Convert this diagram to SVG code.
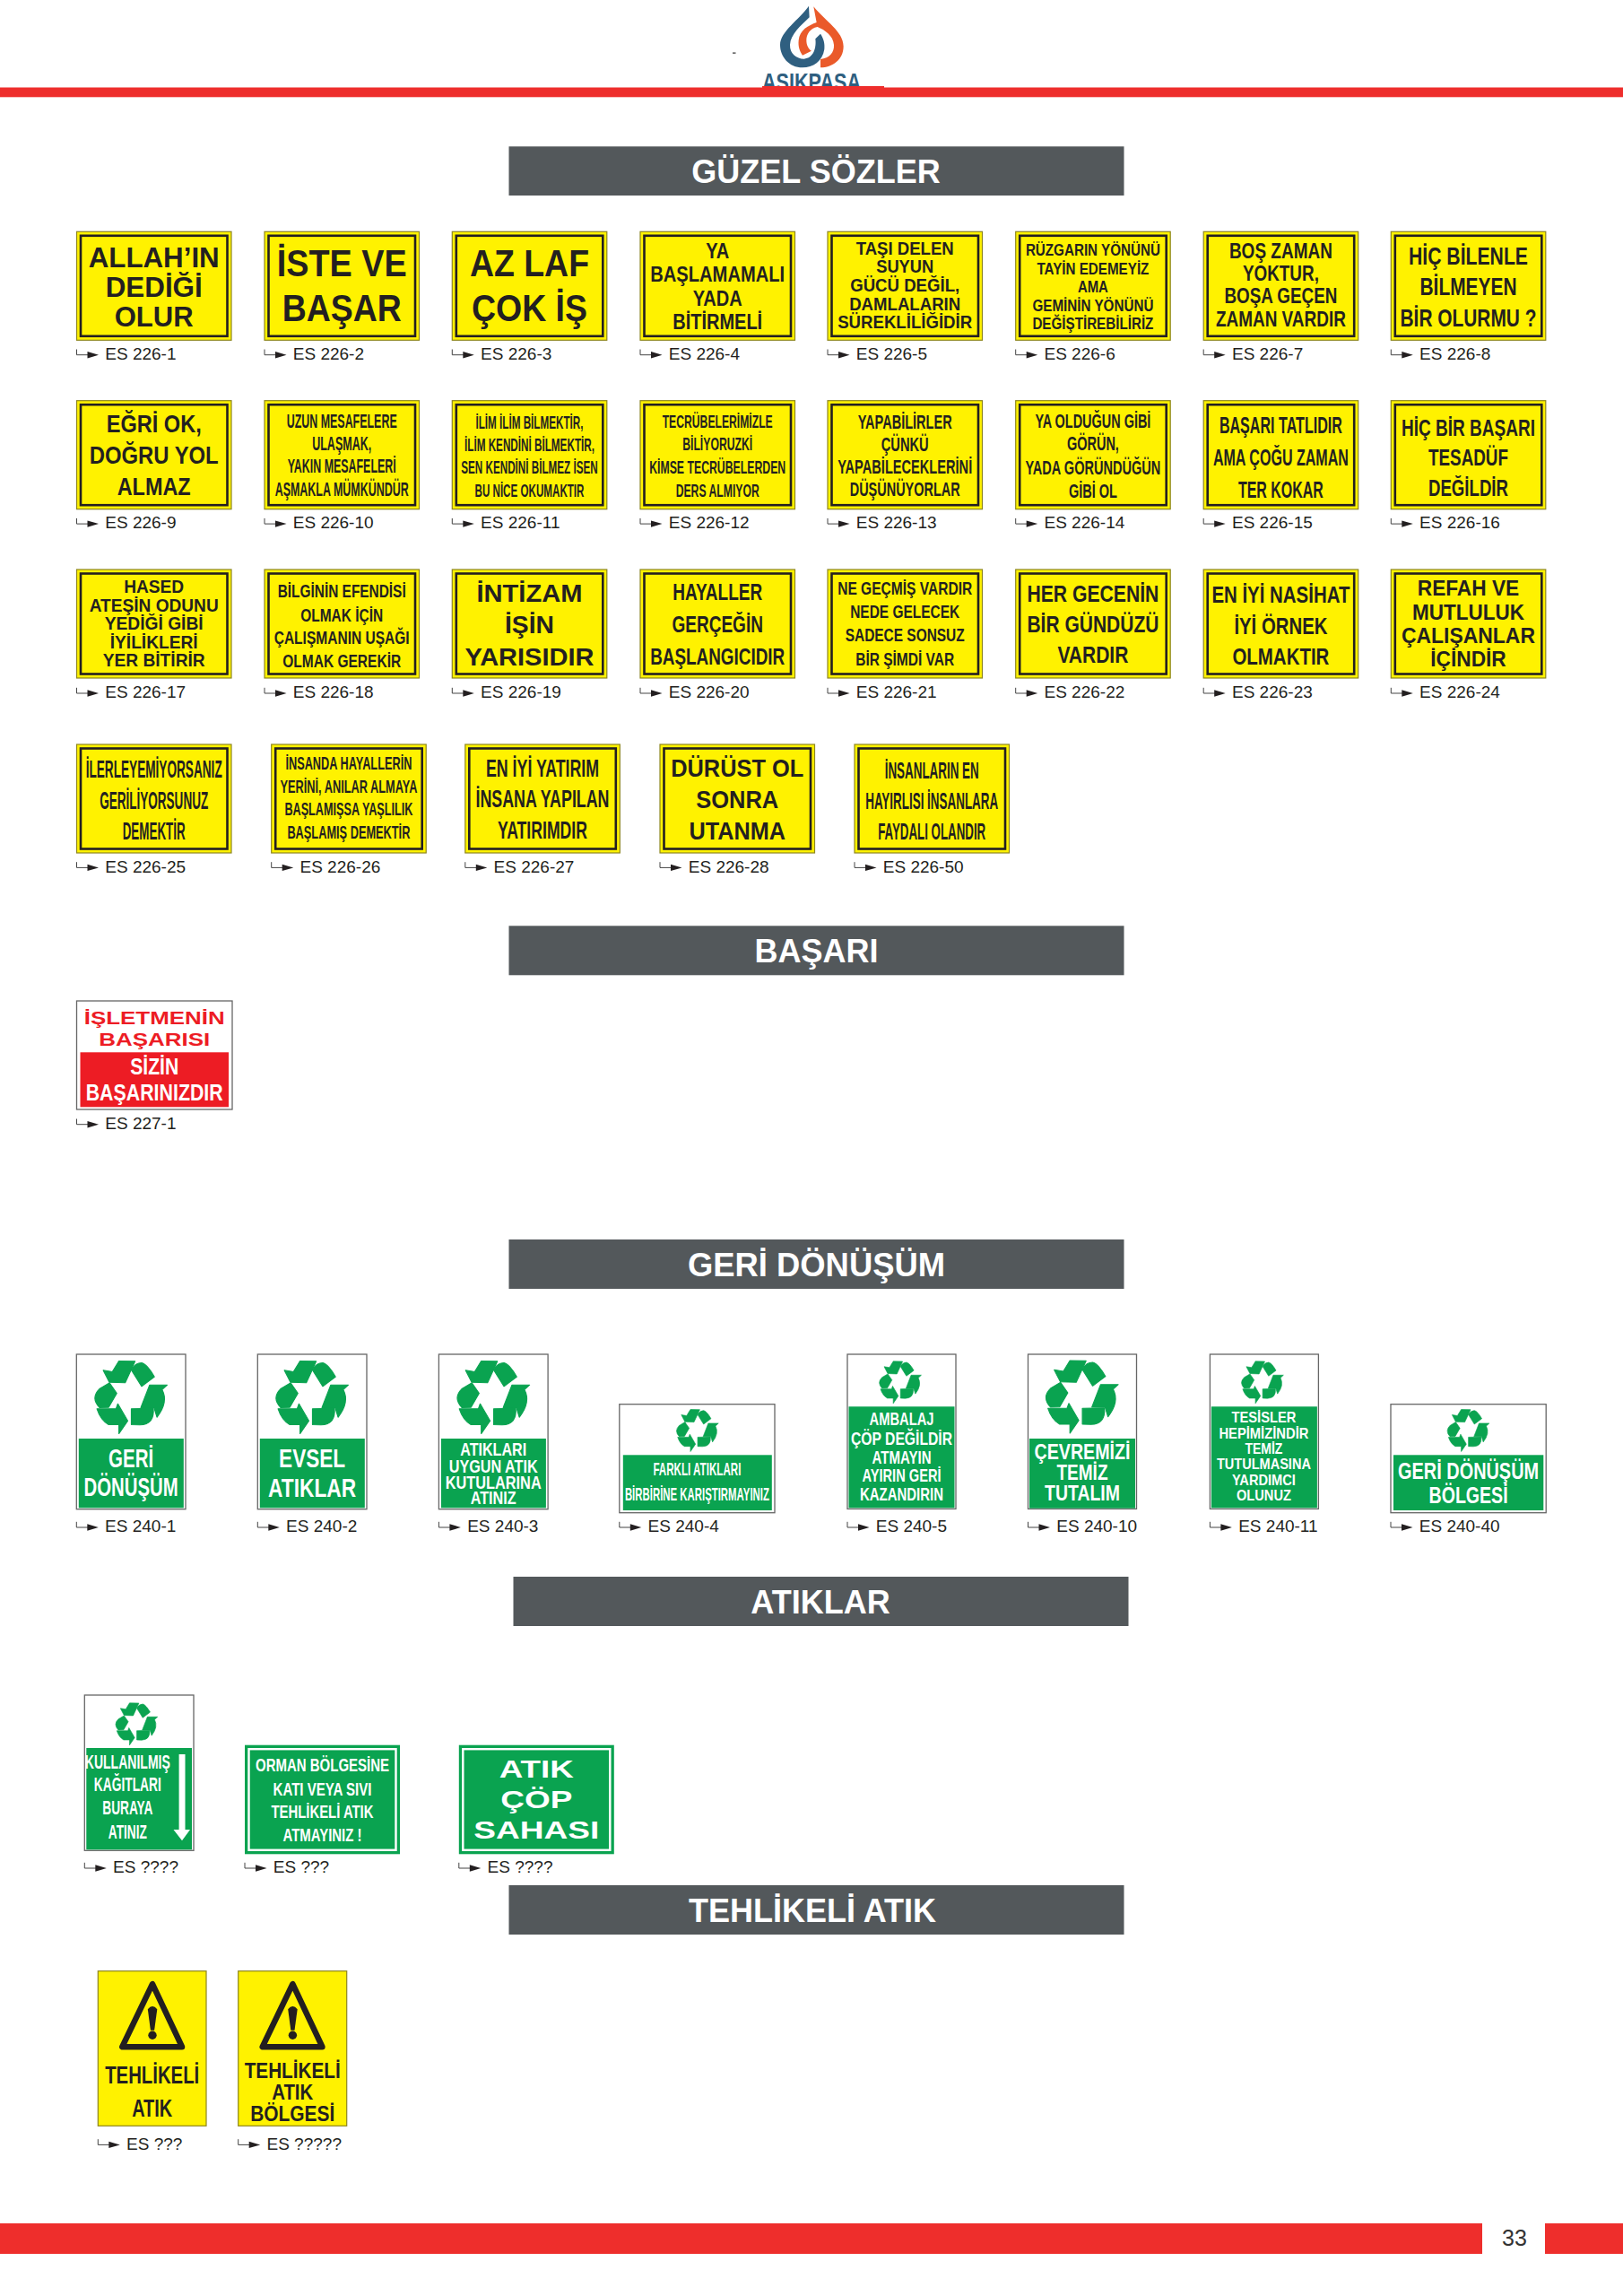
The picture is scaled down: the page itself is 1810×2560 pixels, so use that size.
<svg xmlns="http://www.w3.org/2000/svg" xmlns:xlink="http://www.w3.org/1999/xlink" width="1810" height="2560" viewBox="0 0 1810 2560">
<style>
text{font-family:"Liberation Sans",Arial,sans-serif}
.s text{font-weight:bold;text-anchor:middle;fill:#231f20}
.s .w{fill:#fff}
.s .r{fill:#ed1c24}
.s .lab{font-weight:normal;text-anchor:start;font-size:19px;fill:#231f20}
.bar{fill:#53585b}
.ttl{font-weight:bold;font-size:36px;fill:#fff;text-anchor:middle}
.red{fill:#ee2e2c}
.g{fill:#0aa350}
.wb{fill:#fff;stroke:#666;stroke-width:1.3}
.yb{fill:#fff200;stroke:#8d8620;stroke-width:1.2}
</style>
<defs>
<g id="ys"><rect x="0" y="0" width="172.5" height="121" class="yb"/><rect x="4.5" y="4.5" width="163.5" height="112" fill="none" stroke="#231f20" stroke-width="2.6"/></g>
<g id="gs"><rect x="0" y="0" width="173" height="121.6" class="g"/><rect x="4.5" y="4.5" width="164" height="112.6" fill="none" stroke="#fff" stroke-width="2.4"/></g>
<g id="lb"><path d="M0,-11.5V-5.3H14" fill="none" stroke="#444" stroke-width="1"/><path d="M12,-9L24.5,-5.3L12,-1.6Z" fill="#231f20"/></g>
<g id="rec" transform="scale(.408,.333) translate(-211,-232)" fill="#0aa350" stroke="#0aa350" stroke-width="3" stroke-linejoin="round">
<path d="M178,112L222,113L195,185L152,183L135,143L160,148Z"/>
<path d="M212,142Q222,118 240,118Q255,122 275,165L240,197Z"/>
<path d="M238,268L262,192L310,192L296,208Q314,250 282,300L274,268Z"/>
<path d="M212,272L272,270Q276,325 235,326L212,325Z"/>
<path d="M118,272L170,272L175,255L202,312L178,355L178,325L150,325Q128,310 118,272Z"/>
<path d="M152,185L172,220L150,267L125,268Q100,235 125,205Z"/>
</g>
<g id="tri"><path d="M60.7,14.5L27,84.5H93.7Z" fill="none" stroke="#231f20" stroke-width="6.5" stroke-linejoin="round"/><path d="M55.5,42.5Q60.7,36 66,42.5L62.8,66H58.6Z" fill="#231f20"/><circle cx="60.7" cy="71.5" r="4.7" fill="#231f20"/></g>
</defs>
<rect width="1810" height="2560" fill="#fff"/>
<g id="logo">
<rect x="817" y="58.5" width="3.5" height="1.2" fill="#333"/>
<g transform="translate(780,0) scale(.3333)">
<path fill="#2f5f80" d="M366,20L368,58C340,85 305,115 303,150C302,180 325,197 350,197C382,195 392,160 388,130L405,113C416,130 420,145 418,165C412,205 380,226 345,226C300,226 270,190 270,150C270,105 335,65 366,20Z"/>
<path fill="#ea5a2a" d="M382,22C420,70 482,105 482,155C482,200 445,225 405,226L405,198C435,195 452,175 450,150C448,120 420,100 395,90C370,95 358,115 358,135C358,150 365,165 375,170L345,185C335,170 330,155 332,135C335,100 365,85 392,75Z"/>
</g>
<text x="905" y="101" font-size="28" font-weight="bold" text-anchor="middle" fill="#2f5f80" textLength="110" lengthAdjust="spacingAndGlyphs">ASIKPASA</text>
</g>
<rect id="top-rule" class="red" x="0" y="97.5" width="1810" height="10.8"/>
<rect class="red" x="850" y="96" width="136" height="3"/>

<g id="sec-guzel"><rect class="bar" x="567.5" y="163.3" width="686" height="54.7"/><text class="ttl" x="910" y="204">GÜZEL SÖZLER</text></g>
<g id="sec-basari"><rect class="bar" x="567.5" y="1032.3" width="686" height="55"/><text class="ttl" x="910.5" y="1073.3">BAŞARI</text></g>
<g id="sec-geri"><rect class="bar" x="567.5" y="1382" width="686" height="55"/><text class="ttl" x="910.5" y="1423" textLength="287" lengthAdjust="spacingAndGlyphs">GERİ DÖNÜŞÜM</text></g>
<g id="sec-atiklar"><rect class="bar" x="572.5" y="1758" width="686" height="55"/><text class="ttl" x="915" y="1799">ATIKLAR</text></g>
<g id="sec-tehlikeli"><rect class="bar" x="567.5" y="2102" width="686" height="55"/><text class="ttl" x="906" y="2143">TEHLİKELİ ATIK</text></g>

<g id="es-226-1" class="s" transform="translate(85.5,258.3)"><use href="#ys"/>
<text x="86.2" y="39.3" font-size="31" textLength="146" lengthAdjust="spacingAndGlyphs">ALLAH’IN</text>
<text x="86.2" y="72.3" font-size="31" textLength="108" lengthAdjust="spacingAndGlyphs">DEDİĞİ</text>
<text x="86.2" y="105.7" font-size="31" textLength="88" lengthAdjust="spacingAndGlyphs">OLUR</text>
<text class="lab" x="31.8" y="142.7">ES 226-1</text></g>
<g id="es-226-2" class="s" transform="translate(295,258.3)"><use href="#ys"/>
<text x="86.2" y="50" font-size="43" textLength="145" lengthAdjust="spacingAndGlyphs">İSTE VE</text>
<text x="86.2" y="100" font-size="43" textLength="133" lengthAdjust="spacingAndGlyphs">BAŞAR</text>
<text class="lab" x="31.8" y="142.7">ES 226-2</text></g>
<g id="es-226-3" class="s" transform="translate(504.3,258.3)"><use href="#ys"/>
<text x="86.2" y="50" font-size="43" textLength="133" lengthAdjust="spacingAndGlyphs">AZ LAF</text>
<text x="86.2" y="100" font-size="43" textLength="129" lengthAdjust="spacingAndGlyphs">ÇOK İŞ</text>
<text class="lab" x="31.8" y="142.7">ES 226-3</text></g>
<g id="es-226-4" class="s" transform="translate(714,258.3)"><use href="#ys"/>
<text x="86.2" y="29.3" font-size="23" textLength="26" lengthAdjust="spacingAndGlyphs">YA</text>
<text x="86.2" y="56" font-size="23" textLength="150" lengthAdjust="spacingAndGlyphs">BAŞLAMAMALI</text>
<text x="86.2" y="82.7" font-size="23" textLength="55" lengthAdjust="spacingAndGlyphs">YADA</text>
<text x="86.2" y="109" font-size="23" textLength="100" lengthAdjust="spacingAndGlyphs">BİTİRMELİ</text>
<text class="lab" x="31.8" y="142.7">ES 226-4</text></g>
<g id="es-226-5" class="s" transform="translate(923,258.3)"><use href="#ys"/>
<text x="86.2" y="25.7" font-size="19.5" textLength="109" lengthAdjust="spacingAndGlyphs">TAŞI DELEN</text>
<text x="86.2" y="46" font-size="19.5" textLength="64" lengthAdjust="spacingAndGlyphs">SUYUN</text>
<text x="86.2" y="66.7" font-size="19.5" textLength="122" lengthAdjust="spacingAndGlyphs">GÜCÜ DEĞİL,</text>
<text x="86.2" y="87.7" font-size="19.5" textLength="124" lengthAdjust="spacingAndGlyphs">DAMLALARIN</text>
<text x="86.2" y="107.7" font-size="19.5" textLength="150" lengthAdjust="spacingAndGlyphs">SÜREKLİLİĞİDİR</text>
<text class="lab" x="31.8" y="142.7">ES 226-5</text></g>
<g id="es-226-6" class="s" transform="translate(1132.7,258.3)"><use href="#ys"/>
<text x="86.2" y="26.7" font-size="18.5" textLength="150" lengthAdjust="spacingAndGlyphs">RÜZGARIN YÖNÜNÜ</text>
<text x="86.2" y="47.3" font-size="18.5" textLength="125" lengthAdjust="spacingAndGlyphs">TAYİN EDEMEYİZ</text>
<text x="86.2" y="67.7" font-size="18.5" textLength="34" lengthAdjust="spacingAndGlyphs">AMA</text>
<text x="86.2" y="88.3" font-size="18.5" textLength="135" lengthAdjust="spacingAndGlyphs">GEMİNİN YÖNÜNÜ</text>
<text x="86.2" y="108.3" font-size="18.5" textLength="135" lengthAdjust="spacingAndGlyphs">DEĞİŞTİREBİLİRİZ</text>
<text class="lab" x="31.8" y="142.7">ES 226-6</text></g>
<g id="es-226-7" class="s" transform="translate(1342.2,258.3)"><use href="#ys"/>
<text x="86.2" y="30" font-size="23" textLength="115" lengthAdjust="spacingAndGlyphs">BOŞ ZAMAN</text>
<text x="86.2" y="55" font-size="23" textLength="85" lengthAdjust="spacingAndGlyphs">YOKTUR,</text>
<text x="86.2" y="80" font-size="23" textLength="126" lengthAdjust="spacingAndGlyphs">BOŞA GEÇEN</text>
<text x="86.2" y="105.7" font-size="23" textLength="145" lengthAdjust="spacingAndGlyphs">ZAMAN VARDIR</text>
<text class="lab" x="31.8" y="142.7">ES 226-7</text></g>
<g id="es-226-8" class="s" transform="translate(1551.3,258.3)"><use href="#ys"/>
<text x="86.2" y="36.7" font-size="28" textLength="133" lengthAdjust="spacingAndGlyphs">HİÇ BİLENLE</text>
<text x="86.2" y="71" font-size="28" textLength="108" lengthAdjust="spacingAndGlyphs">BİLMEYEN</text>
<text x="86.2" y="105.7" font-size="28" textLength="152" lengthAdjust="spacingAndGlyphs">BİR OLURMU ?</text>
<text class="lab" x="31.8" y="142.7">ES 226-8</text></g>

<g id="es-226-9" class="s" transform="translate(85.5,446.7)"><use href="#ys"/>
<text x="86.2" y="35.7" font-size="27" textLength="106" lengthAdjust="spacingAndGlyphs">EĞRİ OK,</text>
<text x="86.2" y="70.7" font-size="27" textLength="144" lengthAdjust="spacingAndGlyphs">DOĞRU YOL</text>
<text x="86.2" y="105" font-size="27" textLength="82" lengthAdjust="spacingAndGlyphs">ALMAZ</text>
<text class="lab" x="31.8" y="142.7">ES 226-9</text></g>
<g id="es-226-10" class="s" transform="translate(295,446.7)"><use href="#ys"/>
<text x="86.2" y="30" font-size="22.5" textLength="123" lengthAdjust="spacingAndGlyphs">UZUN MESAFELERE</text>
<text x="86.2" y="55" font-size="22.5" textLength="66" lengthAdjust="spacingAndGlyphs">ULAŞMAK,</text>
<text x="86.2" y="80.7" font-size="22.5" textLength="121" lengthAdjust="spacingAndGlyphs">YAKIN MESAFELERİ</text>
<text x="86.2" y="106.7" font-size="22.5" textLength="149" lengthAdjust="spacingAndGlyphs">AŞMAKLA MÜMKÜNDÜR</text>
<text class="lab" x="31.8" y="142.7">ES 226-10</text></g>
<g id="es-226-11" class="s" transform="translate(504.3,446.7)"><use href="#ys"/>
<text x="86.2" y="31.7" font-size="20.5" textLength="120" lengthAdjust="spacingAndGlyphs">İLİM İLİM BİLMEKTİR,</text>
<text x="86.2" y="56.7" font-size="20.5" textLength="145" lengthAdjust="spacingAndGlyphs">İLİM KENDİNİ BİLMEKTİR,</text>
<text x="86.2" y="81.7" font-size="20.5" textLength="152.5" lengthAdjust="spacingAndGlyphs">SEN KENDİNİ BİLMEZ İSEN</text>
<text x="86.2" y="107.3" font-size="20.5" textLength="122" lengthAdjust="spacingAndGlyphs">BU NİCE OKUMAKTIR</text>
<text class="lab" x="31.8" y="142.7">ES 226-11</text></g>
<g id="es-226-12" class="s" transform="translate(714,446.7)"><use href="#ys"/>
<text x="86.2" y="30" font-size="21" textLength="123" lengthAdjust="spacingAndGlyphs">TECRÜBELERİMİZLE</text>
<text x="86.2" y="55.7" font-size="21" textLength="78" lengthAdjust="spacingAndGlyphs">BİLİYORUZKİ</text>
<text x="86.2" y="81.7" font-size="21" textLength="152" lengthAdjust="spacingAndGlyphs">KİMSE TECRÜBELERDEN</text>
<text x="86.2" y="107.3" font-size="21" textLength="93" lengthAdjust="spacingAndGlyphs">DERS ALMIYOR</text>
<text class="lab" x="31.8" y="142.7">ES 226-12</text></g>
<g id="es-226-13" class="s" transform="translate(923,446.7)"><use href="#ys"/>
<text x="86.2" y="31.7" font-size="21.5" textLength="105" lengthAdjust="spacingAndGlyphs">YAPABİLİRLER</text>
<text x="86.2" y="56.7" font-size="21.5" textLength="53" lengthAdjust="spacingAndGlyphs">ÇÜNKÜ</text>
<text x="86.2" y="81.7" font-size="21.5" textLength="150" lengthAdjust="spacingAndGlyphs">YAPABİLECEKLERİNİ</text>
<text x="86.2" y="106.7" font-size="21.5" textLength="123" lengthAdjust="spacingAndGlyphs">DÜŞÜNÜYORLAR</text>
<text class="lab" x="31.8" y="142.7">ES 226-13</text></g>
<g id="es-226-14" class="s" transform="translate(1132.7,446.7)"><use href="#ys"/>
<text x="86.2" y="30.7" font-size="21.5" textLength="129" lengthAdjust="spacingAndGlyphs">YA OLDUĞUN GİBİ</text>
<text x="86.2" y="55.7" font-size="21.5" textLength="58" lengthAdjust="spacingAndGlyphs">GÖRÜN,</text>
<text x="86.2" y="82.7" font-size="21.5" textLength="151" lengthAdjust="spacingAndGlyphs">YADA GÖRÜNDÜĞÜN</text>
<text x="86.2" y="108.3" font-size="21.5" textLength="54" lengthAdjust="spacingAndGlyphs">GİBİ OL</text>
<text class="lab" x="31.8" y="142.7">ES 226-14</text></g>
<g id="es-226-15" class="s" transform="translate(1342.2,446.7)"><use href="#ys"/>
<text x="86.2" y="36.7" font-size="25.5" textLength="137" lengthAdjust="spacingAndGlyphs">BAŞARI TATLIDIR</text>
<text x="86.2" y="72.7" font-size="25.5" textLength="151" lengthAdjust="spacingAndGlyphs">AMA ÇOĞU ZAMAN</text>
<text x="86.2" y="108.3" font-size="25.5" textLength="95" lengthAdjust="spacingAndGlyphs">TER KOKAR</text>
<text class="lab" x="31.8" y="142.7">ES 226-15</text></g>
<g id="es-226-16" class="s" transform="translate(1551.3,446.7)"><use href="#ys"/>
<text x="86.2" y="39.3" font-size="26.5" textLength="149" lengthAdjust="spacingAndGlyphs">HİÇ BİR BAŞARI</text>
<text x="86.2" y="72.7" font-size="26.5" textLength="89" lengthAdjust="spacingAndGlyphs">TESADÜF</text>
<text x="86.2" y="106" font-size="26.5" textLength="89" lengthAdjust="spacingAndGlyphs">DEĞİLDİR</text>
<text class="lab" x="31.8" y="142.7">ES 226-16</text></g>

<g id="es-226-17" class="s" transform="translate(85.5,635)"><use href="#ys"/>
<text x="86.2" y="25.7" font-size="19.5" textLength="67" lengthAdjust="spacingAndGlyphs">HASED</text>
<text x="86.2" y="46.7" font-size="19.5" textLength="144" lengthAdjust="spacingAndGlyphs">ATEŞİN ODUNU</text>
<text x="86.2" y="66.7" font-size="19.5" textLength="110" lengthAdjust="spacingAndGlyphs">YEDİĞİ GİBİ</text>
<text x="86.2" y="87.7" font-size="19.5" textLength="98" lengthAdjust="spacingAndGlyphs">İYİLİKLERİ</text>
<text x="86.2" y="108.3" font-size="19.5" textLength="114" lengthAdjust="spacingAndGlyphs">YER BİTİRİR</text>
<text class="lab" x="31.8" y="143.3">ES 226-17</text></g>
<g id="es-226-18" class="s" transform="translate(295,635)"><use href="#ys"/>
<text x="86.2" y="31" font-size="20" textLength="143" lengthAdjust="spacingAndGlyphs">BİLGİNİN EFENDİSİ</text>
<text x="86.2" y="57.7" font-size="20" textLength="92" lengthAdjust="spacingAndGlyphs">OLMAK İÇİN</text>
<text x="86.2" y="83.3" font-size="20" textLength="151" lengthAdjust="spacingAndGlyphs">ÇALIŞMANIN UŞAĞI</text>
<text x="86.2" y="109.3" font-size="20" textLength="132" lengthAdjust="spacingAndGlyphs">OLMAK GEREKİR</text>
<text class="lab" x="31.8" y="143.3">ES 226-18</text></g>
<g id="es-226-19" class="s" transform="translate(504.3,635)"><use href="#ys"/>
<text x="86.2" y="35.7" font-size="28" textLength="118" lengthAdjust="spacingAndGlyphs">İNTİZAM</text>
<text x="86.2" y="71" font-size="28" textLength="55" lengthAdjust="spacingAndGlyphs">İŞİN</text>
<text x="86.2" y="106.7" font-size="28" textLength="144" lengthAdjust="spacingAndGlyphs">YARISIDIR</text>
<text class="lab" x="31.8" y="143.3">ES 226-19</text></g>
<g id="es-226-20" class="s" transform="translate(714,635)"><use href="#ys"/>
<text x="86.2" y="34" font-size="26.5" textLength="100" lengthAdjust="spacingAndGlyphs">HAYALLER</text>
<text x="86.2" y="70" font-size="26.5" textLength="101.5" lengthAdjust="spacingAndGlyphs">GERÇEĞİN</text>
<text x="86.2" y="106" font-size="26.5" textLength="150" lengthAdjust="spacingAndGlyphs">BAŞLANGICIDIR</text>
<text class="lab" x="31.8" y="143.3">ES 226-20</text></g>
<g id="es-226-21" class="s" transform="translate(923,635)"><use href="#ys"/>
<text x="86.2" y="27.7" font-size="20" textLength="150" lengthAdjust="spacingAndGlyphs">NE GEÇMİŞ VARDIR</text>
<text x="86.2" y="54.3" font-size="20" textLength="122" lengthAdjust="spacingAndGlyphs">NEDE GELECEK</text>
<text x="86.2" y="80.3" font-size="20" textLength="133" lengthAdjust="spacingAndGlyphs">SADECE SONSUZ</text>
<text x="86.2" y="106.7" font-size="20" textLength="110" lengthAdjust="spacingAndGlyphs">BİR ŞİMDİ VAR</text>
<text class="lab" x="31.8" y="143.3">ES 226-21</text></g>
<g id="es-226-22" class="s" transform="translate(1132.7,635)"><use href="#ys"/>
<text x="86.2" y="35.7" font-size="25" textLength="147" lengthAdjust="spacingAndGlyphs">HER GECENİN</text>
<text x="86.2" y="70" font-size="25" textLength="147" lengthAdjust="spacingAndGlyphs">BİR GÜNDÜZÜ</text>
<text x="86.2" y="104.3" font-size="25" textLength="79" lengthAdjust="spacingAndGlyphs">VARDIR</text>
<text class="lab" x="31.8" y="143.3">ES 226-22</text></g>
<g id="es-226-23" class="s" transform="translate(1342.2,635)"><use href="#ys"/>
<text x="86.2" y="37.3" font-size="25" textLength="154" lengthAdjust="spacingAndGlyphs">EN İYİ NASİHAT</text>
<text x="86.2" y="71.7" font-size="25" textLength="104" lengthAdjust="spacingAndGlyphs">İYİ ÖRNEK</text>
<text x="86.2" y="105.7" font-size="25" textLength="108" lengthAdjust="spacingAndGlyphs">OLMAKTIR</text>
<text class="lab" x="31.8" y="143.3">ES 226-23</text></g>
<g id="es-226-24" class="s" transform="translate(1551.3,635)"><use href="#ys"/>
<text x="86.2" y="29.3" font-size="23.5" textLength="113.5" lengthAdjust="spacingAndGlyphs">REFAH VE</text>
<text x="86.2" y="55.7" font-size="23.5" textLength="125" lengthAdjust="spacingAndGlyphs">MUTLULUK</text>
<text x="86.2" y="81.7" font-size="23.5" textLength="149" lengthAdjust="spacingAndGlyphs">ÇALIŞANLAR</text>
<text x="86.2" y="107.7" font-size="23.5" textLength="84.5" lengthAdjust="spacingAndGlyphs">İÇİNDİR</text>
<text class="lab" x="31.8" y="143.3">ES 226-24</text></g>

<g id="es-226-25" class="s" transform="translate(85.5,830)"><use href="#ys"/>
<text x="86.2" y="37.3" font-size="27" textLength="152" lengthAdjust="spacingAndGlyphs">İLERLEYEMİYORSANIZ</text>
<text x="86.2" y="71.7" font-size="27" textLength="121" lengthAdjust="spacingAndGlyphs">GERİLİYORSUNUZ</text>
<text x="86.2" y="106" font-size="27" textLength="70" lengthAdjust="spacingAndGlyphs">DEMEKTİR</text>
<text class="lab" x="31.8" y="142.7">ES 226-25</text></g>
<g id="es-226-26" class="s" transform="translate(302.7,830)"><use href="#ys"/>
<text x="86.2" y="28.3" font-size="20.5" textLength="141" lengthAdjust="spacingAndGlyphs">İNSANDA HAYALLERİN</text>
<text x="86.2" y="54" font-size="20.5" textLength="153" lengthAdjust="spacingAndGlyphs">YERİNİ, ANILAR ALMAYA</text>
<text x="86.2" y="79.3" font-size="20.5" textLength="143" lengthAdjust="spacingAndGlyphs">BAŞLAMIŞSA YAŞLILIK</text>
<text x="86.2" y="105" font-size="20.5" textLength="137" lengthAdjust="spacingAndGlyphs">BAŞLAMIŞ DEMEKTİR</text>
<text class="lab" x="31.8" y="142.7">ES 226-26</text></g>
<g id="es-226-27" class="s" transform="translate(518.8,830)"><use href="#ys"/>
<text x="86.2" y="36" font-size="27" textLength="126" lengthAdjust="spacingAndGlyphs">EN İYİ YATIRIM</text>
<text x="86.2" y="70" font-size="27" textLength="149" lengthAdjust="spacingAndGlyphs">İNSANA YAPILAN</text>
<text x="86.2" y="105" font-size="27" textLength="100" lengthAdjust="spacingAndGlyphs">YATIRIMDIR</text>
<text class="lab" x="31.8" y="142.7">ES 226-27</text></g>
<g id="es-226-28" class="s" transform="translate(736,830)"><use href="#ys"/>
<text x="86.2" y="36" font-size="28" textLength="148" lengthAdjust="spacingAndGlyphs">DÜRÜST OL</text>
<text x="86.2" y="70.7" font-size="28" textLength="92" lengthAdjust="spacingAndGlyphs">SONRA</text>
<text x="86.2" y="106" font-size="28" textLength="107.5" lengthAdjust="spacingAndGlyphs">UTANMA</text>
<text class="lab" x="31.8" y="142.7">ES 226-28</text></g>
<g id="es-226-50" class="s" transform="translate(953,830)"><use href="#ys"/>
<text x="86.2" y="38.3" font-size="26" textLength="105" lengthAdjust="spacingAndGlyphs">İNSANLARIN EN</text>
<text x="86.2" y="72.3" font-size="26" textLength="148" lengthAdjust="spacingAndGlyphs">HAYIRLISI İNSANLARA</text>
<text x="86.2" y="106" font-size="26" textLength="120" lengthAdjust="spacingAndGlyphs">FAYDALI OLANDIR</text>
<text class="lab" x="31.8" y="142.7">ES 226-50</text></g>

<g id="es-227-1" class="s" transform="translate(85.5,1116)">
<rect width="173.5" height="121" class="wb"/><rect x="4" y="57.3" width="165.5" height="61" fill="#ed1c24"/>
<text class="r" x="86.7" y="25.7" font-size="21" textLength="157" lengthAdjust="spacingAndGlyphs">İŞLETMENİN</text>
<text class="r" x="86.7" y="50" font-size="21" textLength="124" lengthAdjust="spacingAndGlyphs">BAŞARISI</text>
<text class="w" x="86.7" y="82.3" font-size="25" textLength="54" lengthAdjust="spacingAndGlyphs">SİZİN</text>
<text class="w" x="86.7" y="110.7" font-size="25" textLength="153" lengthAdjust="spacingAndGlyphs">BAŞARINIZDIR</text>
<text class="lab" x="31.8" y="143">ES 227-1</text></g>

<g id="es-240-1" class="s" transform="translate(85.3,1510)">
<rect width="121.7" height="172.7" class="wb"/><rect x="2.5" y="94" width="117" height="77.3" class="g"/>
<use href="#rec" transform="translate(60.8,47.5)"/>
<text class="w" x="60.8" y="126" font-size="29" textLength="50" lengthAdjust="spacingAndGlyphs">GERİ</text>
<text class="w" x="60.8" y="157.7" font-size="29" textLength="105" lengthAdjust="spacingAndGlyphs">DÖNÜŞÜM</text>
<text class="lab" x="31.8" y="198.3">ES 240-1</text></g>
<g id="es-240-2" class="s" transform="translate(287.3,1510)">
<rect width="121.7" height="172.7" class="wb"/><rect x="2.5" y="94" width="117" height="77.3" class="g"/>
<use href="#rec" transform="translate(60.8,47.5)"/>
<text class="w" x="60.8" y="126" font-size="29" textLength="74" lengthAdjust="spacingAndGlyphs">EVSEL</text>
<text class="w" x="60.8" y="159.3" font-size="29" textLength="98" lengthAdjust="spacingAndGlyphs">ATIKLAR</text>
<text class="lab" x="31.8" y="198.3">ES 240-2</text></g>
<g id="es-240-3" class="s" transform="translate(489.4,1510)">
<rect width="121.7" height="172.7" class="wb"/><rect x="2.5" y="94" width="117" height="77.3" class="g"/>
<use href="#rec" transform="translate(60.8,47.5)"/>
<text class="w" x="60.8" y="113.3" font-size="19.5" textLength="74" lengthAdjust="spacingAndGlyphs">ATIKLARI</text>
<text class="w" x="60.8" y="131.7" font-size="19.5" textLength="99" lengthAdjust="spacingAndGlyphs">UYGUN ATIK</text>
<text class="w" x="60.8" y="150" font-size="19.5" textLength="107" lengthAdjust="spacingAndGlyphs">KUTULARINA</text>
<text class="w" x="60.8" y="167.3" font-size="19.5" textLength="51" lengthAdjust="spacingAndGlyphs">ATINIZ</text>
<text class="lab" x="31.8" y="198.3">ES 240-3</text></g>
<g id="es-240-4" class="s" transform="translate(690.8,1565.7)">
<rect width="173.2" height="121" class="wb"/><rect x="4" y="56.6" width="166" height="61.7" class="g"/>
<use href="#rec" transform="translate(87,29) scale(.58)"/>
<text class="w" x="86.6" y="79.3" font-size="20" textLength="98" lengthAdjust="spacingAndGlyphs">FARKLI ATIKLARI</text>
<text class="w" x="86.6" y="107" font-size="20" textLength="161" lengthAdjust="spacingAndGlyphs">BİRBİRİNE KARIŞTIRMAYINIZ</text>
<text class="lab" x="31.8" y="142.6">ES 240-4</text></g>
<g id="es-240-5" class="s" transform="translate(945,1510)">
<rect width="121" height="172.4" class="wb"/><rect x="1.5" y="58.3" width="118" height="113" class="g"/>
<use href="#rec" transform="translate(59,31) scale(.58)"/>
<text class="w" x="60.5" y="79.3" font-size="20" textLength="72" lengthAdjust="spacingAndGlyphs">AMBALAJ</text>
<text class="w" x="60.5" y="100.7" font-size="20" textLength="113" lengthAdjust="spacingAndGlyphs">ÇÖP DEĞİLDİR</text>
<text class="w" x="60.5" y="121.7" font-size="20" textLength="66" lengthAdjust="spacingAndGlyphs">ATMAYIN</text>
<text class="w" x="60.5" y="142.3" font-size="20" textLength="88" lengthAdjust="spacingAndGlyphs">AYIRIN GERİ</text>
<text class="w" x="60.5" y="163.3" font-size="20" textLength="93" lengthAdjust="spacingAndGlyphs">KAZANDIRIN</text>
<text class="lab" x="31.8" y="198.3">ES 240-5</text></g>
<g id="es-240-10" class="s" transform="translate(1146.5,1510)">
<rect width="121" height="172.4" class="wb"/><rect x="1.5" y="94" width="118" height="77.7" class="g"/>
<use href="#rec" transform="translate(60.2,47)"/>
<text class="w" x="60.5" y="116.7" font-size="23" textLength="107" lengthAdjust="spacingAndGlyphs">ÇEVREMİZİ</text>
<text class="w" x="60.5" y="140" font-size="23" textLength="57" lengthAdjust="spacingAndGlyphs">TEMİZ</text>
<text class="w" x="60.5" y="163.3" font-size="23" textLength="84" lengthAdjust="spacingAndGlyphs">TUTALIM</text>
<text class="lab" x="31.8" y="198.3">ES 240-10</text></g>
<g id="es-240-11" class="s" transform="translate(1349.4,1510)">
<rect width="121" height="172.4" class="wb"/><rect x="1.5" y="58.3" width="118" height="113" class="g"/>
<use href="#rec" transform="translate(58.5,31) scale(.58)"/>
<text class="w" x="60" y="76" font-size="17" textLength="72" lengthAdjust="spacingAndGlyphs">TESİSLER</text>
<text class="w" x="60" y="94" font-size="17" textLength="100" lengthAdjust="spacingAndGlyphs">HEPİMİZİNDİR</text>
<text class="w" x="60" y="111" font-size="17" textLength="42" lengthAdjust="spacingAndGlyphs">TEMİZ</text>
<text class="w" x="60" y="128.3" font-size="17" textLength="105" lengthAdjust="spacingAndGlyphs">TUTULMASINA</text>
<text class="w" x="60" y="145.7" font-size="17" textLength="71" lengthAdjust="spacingAndGlyphs">YARDIMCI</text>
<text class="w" x="60" y="163.3" font-size="17" textLength="61" lengthAdjust="spacingAndGlyphs">OLUNUZ</text>
<text class="lab" x="31.8" y="198.3">ES 240-11</text></g>
<g id="es-240-40" class="s" transform="translate(1551,1565.7)">
<rect width="173.2" height="121" class="wb"/><rect x="3" y="56.6" width="167.3" height="61.7" class="g"/>
<use href="#rec" transform="translate(86.4,29) scale(.58)"/>
<text class="w" x="86.6" y="83.3" font-size="25" textLength="157" lengthAdjust="spacingAndGlyphs">GERİ DÖNÜŞÜM</text>
<text class="w" x="86.6" y="110.3" font-size="25" textLength="88" lengthAdjust="spacingAndGlyphs">BÖLGESİ</text>
<text class="lab" x="31.8" y="142.6">ES 240-40</text></g>

<g id="es-kullanilmis" class="s" transform="translate(94.3,1890)">
<rect width="121.7" height="173.3" class="wb"/><rect x="2" y="59" width="117.7" height="113.3" class="g"/>
<use href="#rec" transform="translate(58,32) scale(.58)"/>
<text class="w" x="48" y="81.7" font-size="22" textLength="95" lengthAdjust="spacingAndGlyphs">KULLANILMIŞ</text>
<text class="w" x="48" y="106.7" font-size="22" textLength="75" lengthAdjust="spacingAndGlyphs">KAĞITLARI</text>
<text class="w" x="48" y="133.3" font-size="22" textLength="56" lengthAdjust="spacingAndGlyphs">BURAYA</text>
<text class="w" x="48" y="160" font-size="22" textLength="43" lengthAdjust="spacingAndGlyphs">ATINIZ</text>
<path d="M105.3,66H112.2V150H117.7L108.7,162.3L99.2,150H105.3Z" fill="#fff"/>
<text class="lab" x="31.8" y="198.3">ES ????</text></g>
<g id="es-orman" class="s" transform="translate(273,1945.7)"><use href="#gs"/>
<text class="w" x="86.5" y="29.3" font-size="21" textLength="149" lengthAdjust="spacingAndGlyphs">ORMAN BÖLGESİNE</text>
<text class="w" x="86.5" y="56" font-size="21" textLength="110" lengthAdjust="spacingAndGlyphs">KATI VEYA SIVI</text>
<text class="w" x="86.5" y="81.6" font-size="21" textLength="114" lengthAdjust="spacingAndGlyphs">TEHLİKELİ ATIK</text>
<text class="w" x="86.5" y="107.6" font-size="21" textLength="88" lengthAdjust="spacingAndGlyphs">ATMAYINIZ !</text>
<text class="lab" x="31.8" y="142.6">ES ???</text></g>
<g id="es-atik-cop" class="s" transform="translate(511.8,1945.7)"><use href="#gs"/>
<text class="w" x="86.5" y="36" font-size="28" textLength="83" lengthAdjust="spacingAndGlyphs">ATIK</text>
<text class="w" x="86.5" y="70" font-size="28" textLength="80" lengthAdjust="spacingAndGlyphs">ÇÖP</text>
<text class="w" x="86.5" y="104.3" font-size="28" textLength="140" lengthAdjust="spacingAndGlyphs">SAHASI</text>
<text class="lab" x="31.8" y="142.6">ES ????</text></g>

<g id="es-tehlikeli-atik" class="s" transform="translate(109.3,2197.7)">
<rect width="120.7" height="172.6" class="yb"/><use href="#tri"/>
<text x="60.4" y="125.6" font-size="27" textLength="105" lengthAdjust="spacingAndGlyphs">TEHLİKELİ</text>
<text x="60.4" y="162.3" font-size="27" textLength="45" lengthAdjust="spacingAndGlyphs">ATIK</text>
<text class="lab" x="31.8" y="199">ES ???</text></g>
<g id="es-tehlikeli-bolge" class="s" transform="translate(265.7,2197.7)">
<rect width="121" height="172.6" class="yb"/><use href="#tri"/>
<text x="60.5" y="119" font-size="24" textLength="107" lengthAdjust="spacingAndGlyphs">TEHLİKELİ</text>
<text x="60.5" y="143.3" font-size="24" textLength="46" lengthAdjust="spacingAndGlyphs">ATIK</text>
<text x="60.5" y="167.3" font-size="24" textLength="94" lengthAdjust="spacingAndGlyphs">BÖLGESİ</text>
<text class="lab" x="31.8" y="199">ES ?????</text></g>

<g id="connectors">
<use href="#lb" x="85.5" y="401"/><use href="#lb" x="295" y="401"/><use href="#lb" x="504.3" y="401"/><use href="#lb" x="714" y="401"/><use href="#lb" x="923" y="401"/><use href="#lb" x="1132.7" y="401"/><use href="#lb" x="1342.2" y="401"/><use href="#lb" x="1551.3" y="401"/>
<use href="#lb" x="85.5" y="589.4"/><use href="#lb" x="295" y="589.4"/><use href="#lb" x="504.3" y="589.4"/><use href="#lb" x="714" y="589.4"/><use href="#lb" x="923" y="589.4"/><use href="#lb" x="1132.7" y="589.4"/><use href="#lb" x="1342.2" y="589.4"/><use href="#lb" x="1551.3" y="589.4"/>
<use href="#lb" x="85.5" y="778.3"/><use href="#lb" x="295" y="778.3"/><use href="#lb" x="504.3" y="778.3"/><use href="#lb" x="714" y="778.3"/><use href="#lb" x="923" y="778.3"/><use href="#lb" x="1132.7" y="778.3"/><use href="#lb" x="1342.2" y="778.3"/><use href="#lb" x="1551.3" y="778.3"/>
<use href="#lb" x="85.5" y="972.7"/><use href="#lb" x="302.7" y="972.7"/><use href="#lb" x="518.8" y="972.7"/><use href="#lb" x="736" y="972.7"/><use href="#lb" x="953" y="972.7"/>
<use href="#lb" x="85.5" y="1259"/>
<use href="#lb" x="85.3" y="1708.3"/><use href="#lb" x="287.3" y="1708.3"/><use href="#lb" x="489.4" y="1708.3"/><use href="#lb" x="690.8" y="1708.3"/><use href="#lb" x="945" y="1708.3"/><use href="#lb" x="1146.5" y="1708.3"/><use href="#lb" x="1349.4" y="1708.3"/><use href="#lb" x="1551" y="1708.3"/>
<use href="#lb" x="94.3" y="2088.3"/><use href="#lb" x="273" y="2088.3"/><use href="#lb" x="511.8" y="2088.3"/>
<use href="#lb" x="109.3" y="2396.7"/><use href="#lb" x="265.7" y="2396.7"/>
</g>

<g id="footer">
<rect class="red" x="0" y="2479" width="1653" height="34"/>
<rect class="red" x="1723" y="2479" width="87" height="34"/>
<text x="1689" y="2504" font-size="25" text-anchor="middle" fill="#333">33</text>
</g>
</svg>
